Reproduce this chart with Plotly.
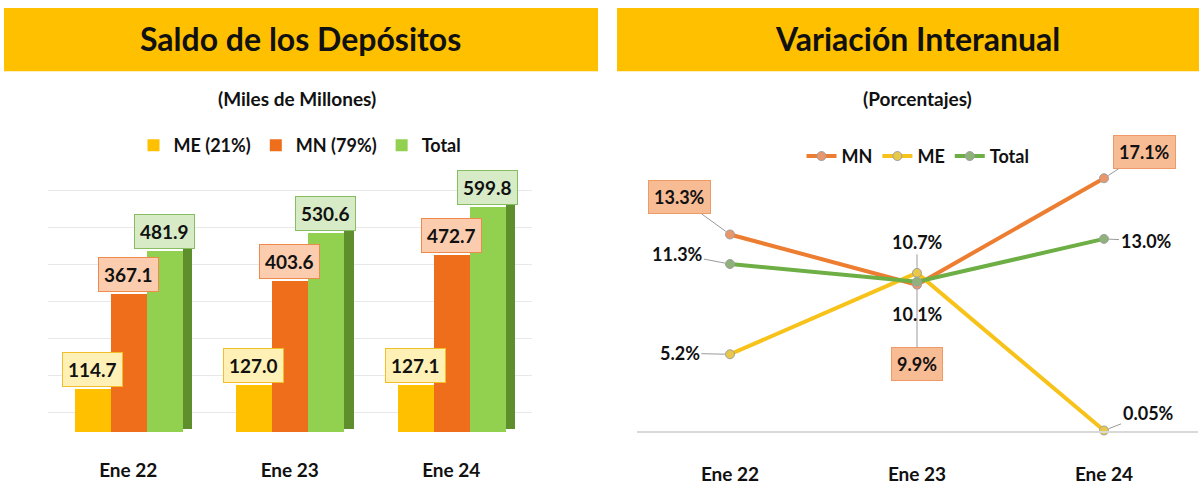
import plotly.graph_objects as go

# ---------------- data ----------------
categories = ["Ene 22", "Ene 23", "Ene 24"]

me_saldo = [114.7, 127.0, 127.1]
mn_saldo = [367.1, 403.6, 472.7]
total_saldo = [481.9, 530.6, 599.8]

mn_var = [13.3, 9.9, 17.1]
me_var = [5.2, 10.7, 0.05]
total_var = [11.3, 10.1, 13.0]

mn_var_labels = ["13.3%", "9.9%", "17.1%"]
me_var_labels = ["5.2%", "10.7%", "0.05%"]
total_var_labels = ["11.3%", "10.1%", "13.0%"]

left_title = "Saldo de los Depósitos"
right_title = "Variación Interanual"
left_sub = "(Miles de Millones)"
right_sub = "(Porcentajes)"

# ---------------- style ----------------
FONT = "Lato"
YELLOW = "#FFC000"
ORANGE = "#EE6E1C"
GREEN = "#92D050"
DKGREEN = "#5E8F2C"
L_ORANGE = "#ED7D31"
L_YELLOW = "#F7C31A"
L_GREEN = "#6DAE45"

W, H = 1199, 485

fig = go.Figure()

bw = 0.222
fig.add_trace(go.Bar(x=categories, y=me_saldo, name="ME (21%)", marker_color=YELLOW,
                     marker_line_width=0, width=bw, offset=-0.333, legend="legend",
                     hoverinfo="skip"))
fig.add_trace(go.Bar(x=categories, y=mn_saldo, name="MN (79%)", marker_color=ORANGE,
                     marker_line_width=0, width=bw, offset=-0.111, legend="legend",
                     hoverinfo="skip"))
fig.add_trace(go.Bar(x=categories, y=total_saldo, name="Total", marker_color=GREEN,
                     marker_line_width=0, width=bw, offset=0.111, legend="legend",
                     hoverinfo="skip"))
# 3D side face of the total bars
fig.add_trace(go.Bar(x=categories, y=total_saldo, base=[10] * len(categories),
                     marker_color=DKGREEN, marker_line_width=0, width=0.06, offset=0.333,
                     showlegend=False, hoverinfo="skip"))

# right panel lines
def line_trace(yvals, name, color, mcolor):
    return go.Scatter(x=categories, y=yvals, name=name, mode="lines+markers",
                      line=dict(color=color, width=4),
                      marker=dict(size=9, color=mcolor, line=dict(color="#A0A0A0", width=1)),
                      xaxis="x2", yaxis="y2", legend="legend2", cliponaxis=False,
                      hoverinfo="skip")

fig.add_trace(line_trace(mn_var, "MN", L_ORANGE, "#E9966A"))
fig.add_trace(line_trace(me_var, "ME", L_YELLOW, "#E8C84A"))
fig.add_trace(line_trace(total_var, "Total", L_GREEN, "#8FB27A"))

annotations = []

# bar labels
bar_styles = [
    (me_saldo, -36, "#FFF1B5", "#F2BE2A"),
    (mn_saldo, 0, "#FBCDAE", "#EE8A4C"),
    (total_saldo, 36, "#D6EBC6", "#86BD62"),
]
for vals, xs, bg, bc in bar_styles:
    for c, v in zip(categories, vals):
        annotations.append(dict(
            x=c, y=v, xref="x", yref="y", text=f"{v:.1f}", showarrow=False,
            xshift=xs, yshift=2, yanchor="bottom", xanchor="center",
            font=dict(family=FONT, size=19, color="#111", weight="bold"),
            bgcolor=bg, bordercolor=bc, borderwidth=1, borderpad=5))

# line labels: offsets (ax, ay) of label from its point
mn_off = [(-51, -37), (0, 79), (40, -26)]
me_off = [(-50, -1), (0, -31), (44, -17)]
tot_off = [(-53, -10), None, (42, 2)]

def add_line_labels(vals, labels, offs, boxed):
    for c, v, lab, off in zip(categories, vals, labels, offs):
        d = dict(x=c, y=v, xref="x2", yref="y2", text=lab,
                 font=dict(family=FONT, size=18, color="#111", weight="bold"))
        if off is None:
            d.update(showarrow=False, yshift=-32, xanchor="center", yanchor="middle")
        else:
            d.update(showarrow=True, arrowhead=0, arrowwidth=1, arrowcolor="#9A9A9A",
                     ax=off[0], ay=off[1], standoff=5)
        if boxed:
            d.update(bgcolor="#F8BC95", bordercolor="#EE9A66", borderwidth=1, borderpad=5)
        annotations.append(d)

add_line_labels(mn_var, mn_var_labels, mn_off, True)
add_line_labels(me_var, me_var_labels, me_off, False)
add_line_labels(total_var, total_var_labels, tot_off, False)

# titles and subtitles
def paper_text(x, y, text, size):
    return dict(x=x / W, y=1 - y / H, xref="paper", yref="paper", text=text,
                showarrow=False, xanchor="center", yanchor="middle",
                font=dict(family=FONT, size=size, color="#111", weight="bold"))

annotations += [
    paper_text(300, 39, left_title, 32),
    paper_text(917, 39, right_title, 32),
    paper_text(297, 100, left_sub, 19),
    paper_text(917, 100, right_sub, 19),
]

shapes = [
    dict(type="rect", xref="paper", yref="paper", x0=4 / W, x1=598 / W,
         y0=1 - 72 / H, y1=1 - 8 / H, fillcolor=YELLOW, line=dict(width=0), layer="below"),
    dict(type="rect", xref="paper", yref="paper", x0=617 / W, x1=1.0,
         y0=1 - 72 / H, y1=1 - 8 / H, fillcolor=YELLOW, line=dict(width=0), layer="below"),
]

tickfont = dict(family=FONT, size=19, color="#111", weight="bold")

fig.update_layout(
    width=W, height=H, margin=dict(l=0, r=0, t=0, b=0),
    paper_bgcolor="white", plot_bgcolor="white",
    barmode="overlay", bargap=0,
    font=dict(family=FONT),
    xaxis=dict(domain=[47.5 / W, 532 / W], type="category", range=[-0.5, 2.5],
               showgrid=False, showline=False, ticks="", tickfont=tickfont,
               ticklabelstandoff=25, fixedrange=True),
    yaxis=dict(domain=[1 - 437 / H, 1 - 186 / H], range=[0, 660], showticklabels=False,
               tick0=52, dtick=98.5, gridcolor="#E8E8E8", gridwidth=1, zeroline=False,
               fixedrange=True),
    xaxis2=dict(domain=[636.5 / W, 1197.5 / W], type="category", range=[-0.5, 2.5],
                anchor="y2", showgrid=False, showline=True, linecolor="#D9D9D9", linewidth=1.5,
                ticks="", tickfont=tickfont, ticklabelstandoff=25, fixedrange=True),
    yaxis2=dict(domain=[1 - 435.7 / H, 1 - 151.7 / H], range=[0, 19], anchor="x2",
                showticklabels=False, showgrid=False, zeroline=False, fixedrange=True),
    legend=dict(orientation="h", x=300 / W, xanchor="center", y=1 - 147 / H, yanchor="middle",
                font=dict(family=FONT, size=18, color="#111", weight="bold"),
                bgcolor="rgba(0,0,0,0)", traceorder="normal"),
    legend2=dict(orientation="h", x=918 / W, xanchor="center", y=1 - 158 / H, yanchor="middle",
                 font=dict(family=FONT, size=18, color="#111", weight="bold"),
                 bgcolor="rgba(0,0,0,0)", traceorder="normal"),
    annotations=annotations,
    shapes=shapes,
    showlegend=True,
)

fig.write_html("out.html", config={"displayModeBar": False},
               post_script="document.body.style.margin='0';document.body.style.padding='0';")
